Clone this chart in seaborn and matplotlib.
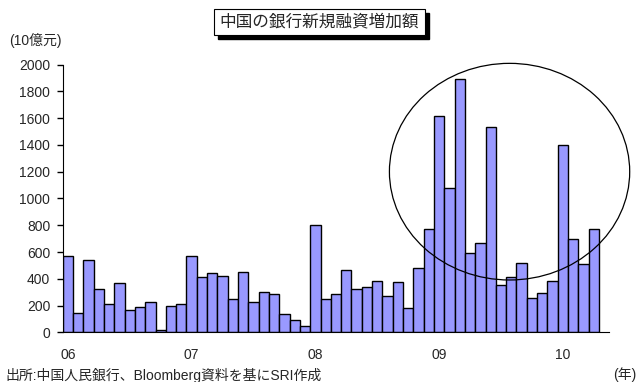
import numpy as np
import pandas as pd
import seaborn as sns
import matplotlib.pyplot as plt
from matplotlib.patches import Ellipse, Rectangle

# monthly new loans, Jan 2006 - Apr 2010 (10億元)
loans_06 = [567, 148, 543, 320, 213, 370, 165, 188, 223, 18, 198, 213]
loans_07 = [567, 410, 443, 418, 248, 450, 230, 305, 285, 138, 90, 45]
loans_08 = [805, 248, 288, 468, 320, 338, 385, 270, 378, 180, 478, 774]
loans_09 = [1617, 1077, 1890, 595, 667, 1537, 353, 413, 520, 259, 296, 381]
loans_10 = [1396, 699, 510, 774]
years = ["06", "07", "08", "09", "10"]

loans = loans_06 + loans_07 + loans_08 + loans_09 + loans_10
months = [f"{y}-{m:02d}" for y in years for m in range(1, 13)][:len(loans)]
df = pd.DataFrame({"month": months, "loans": loans})

sns.set_style("white")
plt.rcParams['font.family'] = ['Liberation Sans', 'Noto Sans CJK JP', 'DejaVu Sans']

W, H = 640, 382
fig = plt.figure(figsize=(6.4, 3.82), dpi=100)
ax = fig.add_axes([0.098, 0.130, 0.854, 0.701])

sns.barplot(data=df, x="month", y="loans", ax=ax, width=1.0,
            color="#9999FF", saturation=1, edgecolor="black", linewidth=1)

ax.set_xlim(-0.5, 52.5)
ax.set_ylim(0, 2000)
ax.set_yticks(np.arange(0, 2001, 200))
ax.set_xticks([0, 12, 24, 36, 48])
ax.set_xticklabels(years)
ax.tick_params(axis='y', length=4, width=1, color='black', labelsize=10, pad=5, direction='out', left=True)
ax.tick_params(axis='x', length=0, labelsize=10, pad=11)
ax.set_xlabel("")
ax.set_ylabel("")
for s in ["top", "right"]:
    ax.spines[s].set_visible(False)
ax.spines["left"].set_color("black")
ax.spines["bottom"].set_color("black")

# circle around the 2009 surge
ell = Ellipse((42.83, 1200), 23.3, 1618, fill=False, edgecolor="black",
              linewidth=0.9, clip_on=False)
ax.add_patch(ell)


def px(x, y):
    # pixel position from top-left -> figure fraction
    return x / W, 1 - y / H


# title box with drop shadow
bx0, by0, bx1, by1 = 214, 9, 425, 35
sx, sy = px(bx0 + 4, by1 + 4)
fig.patches.append(Rectangle((sx, sy), (bx1 - bx0) / W, (by1 - by0) / H,
                             transform=fig.transFigure, facecolor='black', edgecolor='black'))
rx, ry = px(bx0, by1)
fig.patches.append(Rectangle((rx, ry), (bx1 - bx0) / W, (by1 - by0) / H,
                             transform=fig.transFigure, facecolor='white', edgecolor='black', linewidth=0.8))
tx, ty = px((bx0 + bx1) / 2, (by0 + by1) / 2)
fig.text(tx, ty, "中国の銀行新規融資増加額", ha='center', va='center', fontsize=12)

fig.text(*px(9, 40), "(10億元)", ha='left', va='center', fontsize=10)
fig.text(*px(5, 375), "出所:中国人民銀行、Bloomberg資料を基にSRI作成", ha='left', va='center', fontsize=10)
fig.text(*px(636, 375), "(年)", ha='right', va='center', fontsize=10)

fig.savefig("out.png", dpi=100)
